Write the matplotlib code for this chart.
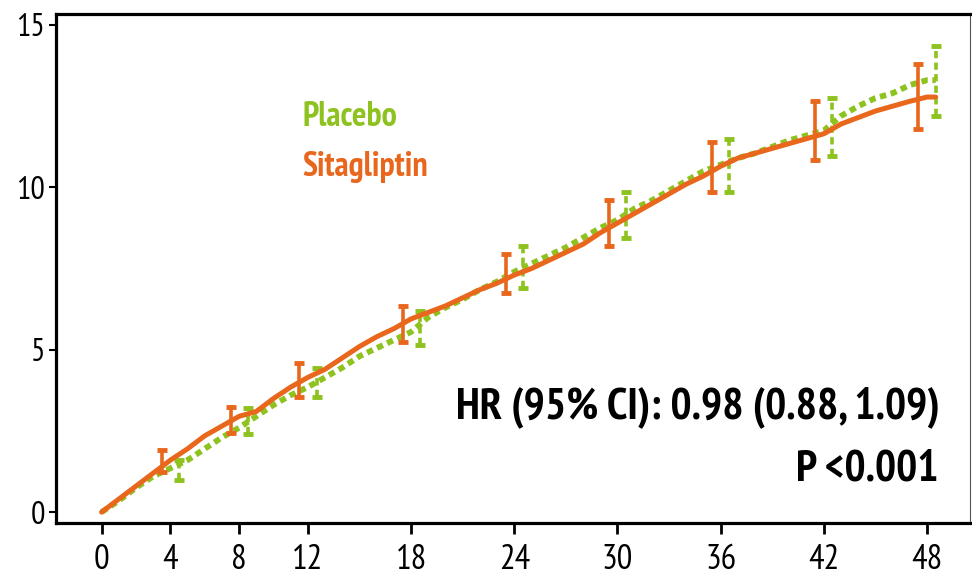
import numpy as np
import matplotlib
matplotlib.use('Agg')
import matplotlib.pyplot as plt

# --- Dados ---
months = [0, 1, 2, 3, 4, 5, 6, 7, 8, 9, 10, 11, 12, 13, 14, 15, 16, 17, 18, 19, 20,
          21, 22, 23, 24, 25, 26, 27, 28, 29, 30, 31, 32, 33, 34, 35, 36, 37, 38, 39,
          40, 41, 42, 43, 44, 45, 46, 47, 48, 48.5]

sitagliptin = [0.0, 0.4, 0.8, 1.2, 1.6, 1.95, 2.35, 2.65, 2.95, 3.1, 3.5, 3.85, 4.15,
               4.4, 4.75, 5.1, 5.4, 5.65, 5.95, 6.15, 6.35, 6.6, 6.85, 7.05, 7.3, 7.5,
               7.75, 8.0, 8.25, 8.6, 8.9, 9.2, 9.5, 9.8, 10.1, 10.35, 10.65, 10.9, 11.05,
               11.2, 11.35, 11.5, 11.65, 11.95, 12.15, 12.35, 12.5, 12.65, 12.78, 12.78]

placebo = [0.0, 0.35, 0.75, 1.1, 1.35, 1.6, 1.95, 2.3, 2.6, 2.95, 3.3, 3.6, 3.85, 4.15,
           4.45, 4.8, 5.05, 5.3, 5.55, 6.0, 6.3, 6.55, 6.85, 7.1, 7.4, 7.65, 7.9, 8.15,
           8.45, 8.75, 9.0, 9.35, 9.6, 9.9, 10.2, 10.5, 10.7, 10.9, 11.05, 11.25, 11.45,
           11.6, 11.75, 12.2, 12.5, 12.75, 12.9, 13.15, 13.3, 13.3]

sita_ci_t = [3.5, 7.5, 11.5, 17.5, 23.5, 29.5, 35.5, 41.5, 47.5]
sita_ci_lo = [1.25, 2.45, 3.55, 5.25, 6.75, 8.2, 9.85, 10.85, 11.8]
sita_ci_hi = [1.9, 3.25, 4.6, 6.35, 7.95, 9.6, 11.4, 12.65, 13.8]

plac_ci_t = [4.5, 8.5, 12.5, 18.5, 24.5, 30.5, 36.5, 42.5, 48.5]
plac_ci_lo = [1.0, 2.4, 3.55, 5.15, 6.9, 8.45, 9.85, 10.95, 12.2]
plac_ci_hi = [1.6, 3.2, 4.45, 6.2, 8.2, 9.85, 11.5, 12.75, 14.35]

xticks = [0, 4, 8, 12, 18, 24, 30, 36, 42, 48]
yticks = [0, 5, 10, 15]

hr_text = 'HR (95% CI): 0.98 (0.88, 1.09)'
p_text = 'P <0.001'

# --- Estilo ---
verde = '#8DC21F'
laranja = '#E8671C'
plt.rcParams['font.family'] = ['PT Sans Narrow', 'Archivo Narrow', 'DejaVu Sans']

fig = plt.figure(figsize=(9.72, 5.8), dpi=100, facecolor='white')
ax = fig.add_axes([0.0576, 0.098, 0.9404, 0.878])

# --- Curvas ---
ax.plot(months, placebo, color=verde, lw=4.2, linestyle=(0, (1.1, 0.8)),
        dash_capstyle='butt', zorder=2)
ax.plot(months, sitagliptin, color=laranja, lw=3.6, solid_capstyle='round', zorder=4)

# --- Intervalos de confiança ---
p_med = [(a + b) / 2 for a, b in zip(plac_ci_lo, plac_ci_hi)]
p_err = [[m - a for m, a in zip(p_med, plac_ci_lo)], [b - m for m, b in zip(p_med, plac_ci_hi)]]
eb_p = ax.errorbar(plac_ci_t, p_med, yerr=p_err, fmt='none', ecolor=verde,
                   elinewidth=2.6, capsize=3.8, capthick=3.5, zorder=3)
eb_p[2][0].set_linestyle((0, (2.0, 1.2)))

s_med = [(a + b) / 2 for a, b in zip(sita_ci_lo, sita_ci_hi)]
s_err = [[m - a for m, a in zip(s_med, sita_ci_lo)], [b - m for m, b in zip(s_med, sita_ci_hi)]]
ax.errorbar(sita_ci_t, s_med, yerr=s_err, fmt='none', ecolor=laranja,
            elinewidth=2.6, capsize=3.8, capthick=3.5, zorder=5)

# --- Eixos ---
ax.set_xlim(-2.65, 50.5)
ax.set_ylim(-0.34, 15.34)
ax.set_xticks(xticks)
ax.set_yticks(yticks)
ax.tick_params(axis='x', labelsize=25, length=8, width=2, pad=7)
ax.tick_params(axis='y', labelsize=23, length=5, width=1.5, pad=3)
for lado in ['left', 'bottom', 'top']:
    ax.spines[lado].set_linewidth(2.3)
ax.spines['right'].set_linewidth(0.8)
ax.spines['right'].set_color('#555555')

# --- Textos ---
ax.text(0.270, 0.78, 'Placebo', transform=ax.transAxes, color=verde,
        fontsize=24.5, fontweight='bold', va='baseline', ha='left')
ax.text(0.270, 0.682, 'Sitagliptin', transform=ax.transAxes, color=laranja,
        fontsize=24.5, fontweight='bold', va='baseline', ha='left')
ax.text(0.967, 0.206, hr_text, transform=ax.transAxes, color='black',
        fontsize=32, fontweight='bold', va='baseline', ha='right')
ax.text(0.965, 0.0845, p_text, transform=ax.transAxes, color='black',
        fontsize=32, fontweight='bold', va='baseline', ha='right')

fig.savefig('out.png', dpi=100, facecolor='white')
